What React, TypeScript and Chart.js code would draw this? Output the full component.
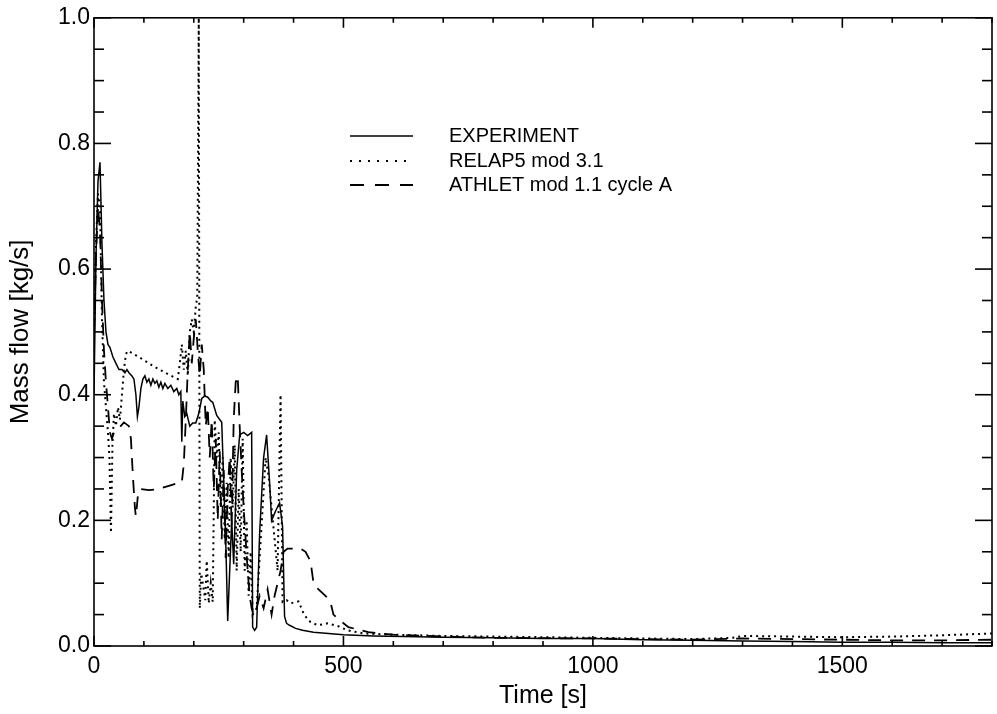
import React, { useEffect, useRef } from "react";
import { Chart, registerables } from "chart.js";

Chart.register(...registerables);

// ---------------- data ----------------
const expT = [0, 4, 8, 12, 16, 20, 24, 28, 32, 38, 44, 50, 56, 62, 66, 70, 76, 80, 84, 87, 90, 94, 98, 102, 106, 110, 114, 118, 122, 126, 130, 134, 138, 142, 148, 154, 160, 166, 170, 174, 176, 178, 182, 186, 192, 198, 204, 210, 216, 222, 228, 234, 238, 246, 256, 264, 268, 272, 276, 280, 286, 292, 300, 308, 316, 318, 322, 326, 332, 340, 346, 352, 356, 364, 372, 378, 382, 386, 392, 404, 418, 440, 470, 500, 560, 620, 700, 800, 900, 1000, 1100, 1200, 1300, 1400, 1500, 1600, 1700, 1800];
const expV = [0.40, 0.62, 0.74, 0.77, 0.64, 0.55, 0.50, 0.48, 0.475, 0.46, 0.45, 0.44, 0.44, 0.435, 0.44, 0.435, 0.43, 0.425, 0.40, 0.365, 0.38, 0.41, 0.425, 0.43, 0.42, 0.425, 0.415, 0.425, 0.418, 0.422, 0.412, 0.42, 0.41, 0.418, 0.41, 0.415, 0.405, 0.41, 0.40, 0.405, 0.325, 0.39, 0.365, 0.37, 0.35, 0.355, 0.355, 0.37, 0.394, 0.398, 0.396, 0.39, 0.388, 0.367, 0.356, 0.17, 0.04, 0.12, 0.20, 0.13, 0.28, 0.336, 0.34, 0.335, 0.34, 0.03, 0.025, 0.03, 0.18, 0.30, 0.336, 0.26, 0.20, 0.215, 0.228, 0.19, 0.047, 0.036, 0.033, 0.028, 0.025, 0.022, 0.02, 0.018, 0.016, 0.015, 0.014, 0.013, 0.012, 0.012, 0.01, 0.009, 0.008, 0.007, 0.006, 0.006, 0.005, 0.005];

const relapT = [0, 4, 8, 12, 16, 20, 24, 28, 31, 34, 37, 40, 44, 48, 52, 56, 60, 64, 68, 90, 120, 150, 168, 172, 176, 180, 184, 188, 192, 196, 200, 204, 207, 210, 212, 215, 219, 223, 226, 230, 234, 238, 242, 246, 250, 254, 258, 262, 266, 270, 274, 278, 282, 286, 290, 294, 298, 302, 306, 310, 314, 318, 326, 332, 338, 344, 350, 356, 362, 368, 374, 378, 386, 394, 410, 420, 430, 448, 468, 488, 508, 540, 600, 700, 800, 900, 1000, 1100, 1200, 1280, 1300, 1400, 1500, 1600, 1700, 1800];
const relapV = [0.50, 0.64, 0.72, 0.70, 0.52, 0.42, 0.38, 0.34, 0.30, 0.18, 0.32, 0.37, 0.35, 0.38, 0.36, 0.40, 0.44, 0.465, 0.47, 0.46, 0.445, 0.432, 0.425, 0.45, 0.48, 0.44, 0.47, 0.43, 0.50, 0.52, 0.50, 0.54, 0.555, 1.0, 0.06, 0.115, 0.095, 0.073, 0.136, 0.068, 0.10, 0.07, 0.36, 0.30, 0.34, 0.22, 0.30, 0.17, 0.26, 0.14, 0.30, 0.22, 0.32, 0.12, 0.25, 0.15, 0.33, 0.12, 0.20, 0.08, 0.15, 0.05, 0.06, 0.14, 0.22, 0.30, 0.27, 0.22, 0.17, 0.12, 0.40, 0.07, 0.073, 0.068, 0.071, 0.052, 0.04, 0.033, 0.036, 0.032, 0.025, 0.02, 0.018, 0.016, 0.015, 0.014, 0.013, 0.012, 0.011, 0.013, 0.016, 0.015, 0.014, 0.015, 0.017, 0.02];

const athletT = [0, 4, 8, 12, 16, 20, 24, 28, 32, 36, 40, 50, 60, 70, 74, 78, 82, 84, 88, 92, 110, 130, 150, 170, 176, 180, 184, 188, 192, 196, 200, 204, 208, 212, 216, 220, 224, 228, 232, 236, 240, 244, 248, 252, 256, 260, 264, 268, 272, 276, 280, 284, 288, 292, 296, 300, 304, 308, 312, 316, 320, 326, 332, 340, 348, 356, 362, 368, 374, 380, 388, 414, 424, 434, 440, 450, 464, 474, 480, 494, 510, 550, 600, 700, 800, 1000, 1200, 1300, 1400, 1500, 1600, 1700, 1800];
const athletV = [0.50, 0.62, 0.70, 0.66, 0.55, 0.47, 0.42, 0.38, 0.34, 0.33, 0.34, 0.347, 0.356, 0.35, 0.33, 0.27, 0.22, 0.206, 0.24, 0.25, 0.248, 0.25, 0.255, 0.26, 0.26, 0.29, 0.36, 0.44, 0.50, 0.45, 0.49, 0.52, 0.47, 0.43, 0.48, 0.44, 0.35, 0.38, 0.30, 0.36, 0.25, 0.33, 0.20, 0.31, 0.17, 0.28, 0.14, 0.25, 0.30, 0.19, 0.36, 0.42, 0.43, 0.35, 0.28, 0.22, 0.17, 0.12, 0.08, 0.06, 0.05, 0.06, 0.08, 0.06, 0.09, 0.05, 0.08, 0.10, 0.12, 0.15, 0.155, 0.155, 0.15, 0.135, 0.10, 0.09, 0.08, 0.07, 0.05, 0.04, 0.03, 0.022, 0.018, 0.015, 0.013, 0.012, 0.01, 0.012, 0.011, 0.01, 0.009, 0.009, 0.01];

const seriesNames = ["EXPERIMENT", "RELAP5 mod 3.1", "ATHLET mod 1.1 cycle A"];
const xTicks = [0, 500, 1000, 1500];
const yTicks = [0, 0.2, 0.4, 0.6, 0.8, 1.0];
const xTitle = "Time [s]";
const yTitle = "Mass flow [kg/s]";

const FONT = "'Liberation Sans', Arial, Helvetica, sans-serif";

const toPoints = (t: number[], v: number[]) => t.map((x, i) => ({ x, y: v[i] }));

const dashes: number[][] = [[], [2, 4], [13, 9]];
const widths = [1.5, 2, 1.8];
const legendDashes: number[][] = [[], [2, 7], [14, 11]];

const framePlugin = {
  id: "frameTicks",
  afterDraw(chart: any) {
    const { ctx, chartArea: a, scales } = chart;
    const xs = scales.x;
    const ys = scales.y;
    ctx.save();
    ctx.strokeStyle = "#000";
    ctx.lineWidth = 1.6;
    ctx.setLineDash([]);
    ctx.strokeRect(a.left, a.top, a.right - a.left, a.bottom - a.top);
    const seg = (x1: number, y1: number, x2: number, y2: number) => {
      ctx.beginPath();
      ctx.moveTo(x1, y1);
      ctx.lineTo(x2, y2);
      ctx.stroke();
    };
    for (let t = 0; t <= 1800; t += 100) {
      const px = xs.getPixelForValue(t);
      const len = t % 500 === 0 ? 10 : 5;
      seg(px, a.bottom, px, a.bottom - len);
      seg(px, a.top, px, a.top + len);
    }
    for (let i = 0; i <= 20; i++) {
      const py = ys.getPixelForValue(i * 0.05);
      const len = i % 4 === 0 ? 17 : 10;
      seg(a.left, py, a.left + len, py);
      seg(a.right, py, a.right - len, py);
    }
    // legend
    const lx1 = 350, lx2 = 413, tx = 449;
    const rows = [136, 161, 185];
    ctx.font = `20px ${FONT}`;
    ctx.fillStyle = "#000";
    ctx.textBaseline = "middle";
    ctx.textAlign = "left";
    seriesNames.forEach((name, i) => {
      ctx.lineWidth = widths[i];
      ctx.setLineDash(legendDashes[i]);
      seg(lx1, rows[i], lx2, rows[i]);
      ctx.setLineDash([]);
      ctx.fillText(name, tx, rows[i]);
    });
    ctx.restore();
  },
};

export default function App() {
  const ref = useRef<HTMLCanvasElement | null>(null);
  useEffect(() => {
    if (!ref.current) return;
    const sets = [
      toPoints(expT, expV),
      toPoints(relapT, relapV),
      toPoints(athletT, athletV),
    ];
    const chart = new Chart(ref.current, {
      type: "line",
      data: {
        datasets: sets.map((d, i) => ({
          label: seriesNames[i],
          data: d,
          borderColor: "#000",
          backgroundColor: "#000",
          borderWidth: widths[i],
          borderDash: dashes[i],
          pointRadius: 0,
          tension: 0,
          fill: false,
        })),
      },
      options: {
        animation: false,
        responsive: false,
        maintainAspectRatio: false,
        layout: { padding: { left: 0, right: 5, top: 9, bottom: 0 } },
        plugins: { legend: { display: false }, tooltip: { enabled: false } },
        scales: {
          x: {
            type: "linear",
            min: 0,
            max: 1800,
            grid: { display: false, drawTicks: false },
            border: { display: false },
            afterBuildTicks: (s: any) => {
              s.ticks = xTicks.map((v) => ({ value: v }));
            },
            afterFit: (s: any) => {
              s.height = 68;
            },
            ticks: {
              color: "#000",
              font: { family: FONT, size: 23 },
              padding: 7,
              maxRotation: 0,
              callback: (v: any) => String(v),
            },
            title: {
              display: true,
              text: xTitle,
              color: "#000",
              font: { family: FONT, size: 25 },
              padding: { top: 0, bottom: 3 },
            },
          },
          y: {
            type: "linear",
            min: 0,
            max: 1.0,
            grid: { display: false, drawTicks: false },
            border: { display: false },
            afterBuildTicks: (s: any) => {
              s.ticks = yTicks.map((v) => ({ value: v }));
            },
            afterFit: (s: any) => {
              s.width = 94;
            },
            ticks: {
              color: "#000",
              font: { family: FONT, size: 23 },
              padding: 4,
              callback: (v: any) => Number(v).toFixed(1),
            },
            title: {
              display: true,
              text: yTitle,
              color: "#000",
              font: { family: FONT, size: 26 },
              padding: { top: 5, bottom: 0 },
            },
          },
        },
      },
      plugins: [framePlugin],
    });
    return () => chart.destroy();
  }, []);
  return (
    <div style={{ position: "fixed", left: 0, top: 0, width: 997, height: 714, background: "#fff" }}>
      <canvas ref={ref} width={997} height={714} style={{ display: "block" }} />
    </div>
  );
}
